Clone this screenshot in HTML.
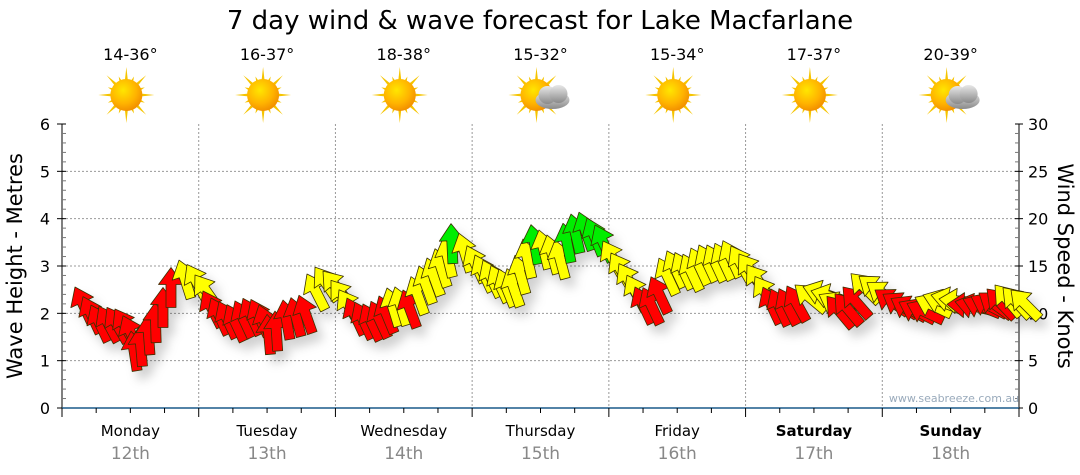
<!DOCTYPE html>
<html><head><meta charset="utf-8"><style>
body{margin:0;background:#fff;width:1080px;height:475px;overflow:hidden;font-family:"DejaVu Sans","Liberation Sans",sans-serif}
</style></head><body>
<svg id="s" width="1080" height="475" xmlns="http://www.w3.org/2000/svg" style="display:block">
<defs>
<radialGradient id="sun" cx="0.4" cy="0.35" r="0.7"><stop offset="0" stop-color="#ffe600"/><stop offset="0.6" stop-color="#ffb300"/><stop offset="1" stop-color="#f08a00"/></radialGradient>
<linearGradient id="cl" x1="0" y1="0" x2="0" y2="1"><stop offset="0" stop-color="#e8e8e8"/><stop offset="1" stop-color="#8a8a8a"/></linearGradient>
<filter id="sh" x="-50%" y="-50%" width="200%" height="200%"><feDropShadow dx="6" dy="8" stdDeviation="5" flood-color="#000" flood-opacity="0.18"/></filter>
</defs>
<text x="540" y="29" font-size="26" text-anchor="middle" fill="#000">7 day wind &amp; wave forecast for Lake Macfarlane</text>
<g id="g"></g>
</svg>
<script>
var g=document.getElementById('g'),h='';
var L=62,R=1019,T=124,B=408,dw=(R-L)/7;
for(var k=1;k<6;k++){var y=B-k*(B-T)/6;h+='<line x1="'+L+'" x2="'+R+'" y1="'+y+'" y2="'+y+'" stroke="#999" stroke-dasharray="2,2"/>';}
for(var d=1;d<7;d++){var x=L+d*dw;h+='<line x1="'+x+'" x2="'+x+'" y1="'+T+'" y2="'+B+'" stroke="#999" stroke-dasharray="2,2"/>';}
h+='<line x1="'+L+'" x2="'+L+'" y1="'+T+'" y2="'+(B+9)+'" stroke="#000"/>';
for(var i=0;i<=30;i++){var y=B-i*(B-T)/30;h+='<line x1="'+(i%5?L:L-5)+'" x2="'+(L+4)+'" y1="'+y+'" y2="'+y+'" stroke="'+(i%5?'#777':'#000')+'"/>';}
for(var k=0;k<=6;k++){var y=B-k*(B-T)/6;h+='<text x="50" y="'+(y+6)+'" font-size="16" text-anchor="end">'+k+'</text>';}
h+='<line x1="'+R+'" x2="'+R+'" y1="'+T+'" y2="'+(B+8)+'" stroke="#000"/>';
for(var i=0;i<=30;i++){var y=B-i*(B-T)/30;h+='<line x1="'+(R-4)+'" x2="'+(i%5?R:R+4)+'" y1="'+y+'" y2="'+y+'" stroke="'+(i%5?'#777':'#000')+'"/>';if(i%5==0)h+='<text x="1028" y="'+(y+6)+'" font-size="16">'+i+'</text>';}
h+='<line x1="'+L+'" x2="'+R+'" y1="'+B+'" y2="'+B+'" stroke="#1a5a8a" stroke-width="1.5"/>';
var days=['Monday','Tuesday','Wednesday','Thursday','Friday','Saturday','Sunday'],dates=['12th','13th','14th','15th','16th','17th','18th'],temps=['14-36°','16-37°','18-38°','15-32°','15-34°','17-37°','20-39°'];
for(var d=0;d<=7;d++){var x=L+d*dw;h+='<line x1="'+x+'" x2="'+x+'" y1="'+B+'" y2="'+(B+9)+'" stroke="#000"/>';
 if(d<7){for(var q=1;q<4;q++){var xx=x+q*dw/4;h+='<line x1="'+xx+'" x2="'+xx+'" y1="'+B+'" y2="'+(B+5)+'" stroke="#000"/>';}
 var cx=x+dw/2,b=d>=5?' font-weight="bold"':'';
 h+='<text x="'+cx+'" y="436" font-size="15" text-anchor="middle"'+b+'>'+days[d]+'</text>';
 h+='<text x="'+cx+'" y="459" font-size="17" text-anchor="middle" fill="#888">'+dates[d]+'</text>';
 h+='<text x="'+cx+'" y="60" font-size="16" text-anchor="middle">'+temps[d]+'</text>';
 var sy=95,sx=cx-4;
 for(var r=0;r<16;r++){var a=r*Math.PI/8,l=(r%2?20:28);h+='<polygon points="'+(sx+Math.cos(a+0.13)*13)+','+(sy+Math.sin(a+0.13)*13)+' '+(sx+Math.cos(a)*l)+','+(sy+Math.sin(a)*l)+' '+(sx+Math.cos(a-0.13)*13)+','+(sy+Math.sin(a-0.13)*13)+'" fill="#f5c400"/>';}
 h+='<circle cx="'+sx+'" cy="'+sy+'" r="16" fill="url(#sun)"/>';
 if(d==3||d==6){h+='<g fill="url(#cl)"><ellipse cx="'+(sx+16)+'" cy="'+(sy+5)+'" rx="17" ry="9"/><circle cx="'+(sx+11)+'" cy="'+(sy)+'" r="9"/><circle cx="'+(sx+22)+'" cy="'+(sy-1)+'" r="9"/></g>';}
 }
}
h+='<text x="954" y="402" font-size="11" text-anchor="middle" fill="#9ab">www.seabreeze.com.au</text>';
h+='<text transform="translate(22,266) rotate(-90)" font-size="21" text-anchor="middle">Wave Height - Metres</text>';
h+='<text transform="translate(1058,266) rotate(90)" font-size="21" text-anchor="middle">Wind Speed - Knots</text>';
var kp=[[75,287,-25,'r'],[90,305,-25,'r'],[105,307,-30,'r'],[120,310,-30,'r'],[133,335,-5,'r'],[145,318,-5,'r'],[160,295,0,'r'],[172,265,0,'r'],[182,258,-25,'y'],[195,275,-35,'y'],[205,295,-25,'r'],[215,300,-25,'r'],[228,305,-25,'r'],[240,298,-25,'r'],[255,300,-25,'r'],[270,318,0,'r'],[283,300,-10,'r'],[300,295,-20,'r'],[310,265,-30,'y'],[322,270,-40,'y'],[335,285,-35,'y'],[345,297,-25,'r'],[360,305,-25,'r'],[375,300,-25,'r'],[390,285,-15,'y'],[403,290,-20,'r'],[415,270,-20,'y'],[430,255,-20,'y'],[442,240,-15,'y'],[453,220,0,'gr'],[462,240,-25,'y'],[475,255,-25,'y'],[490,265,-25,'y'],[505,272,-20,'y'],[517,252,-15,'y'],[530,224,-10,'gr'],[542,232,-15,'y'],[555,240,-15,'y'],[567,215,-10,'gr'],[580,212,-20,'gr'],[595,225,-25,'gr'],[605,245,-30,'y'],[620,265,-30,'y'],[635,287,-25,'r'],[647,288,-25,'r'],[657,260,-25,'y'],[668,250,-25,'y'],[682,255,-25,'y'],[695,245,-25,'y'],[710,245,-25,'y'],[725,240,-25,'y'],[740,255,-35,'y'],[752,272,-35,'y'],[762,287,-25,'r'],[775,290,-25,'r'],[790,285,-30,'r'],[800,285,-70,'y'],[815,293,-75,'y'],[825,297,-40,'r'],[840,292,-40,'r'],[852,272,-45,'y'],[862,278,-55,'y'],[875,290,-55,'r'],[890,298,-60,'r'],[905,305,-65,'r'],[918,295,-65,'y'],[935,295,-80,'y'],[945,305,-90,'r'],[960,300,-70,'r'],[975,295,-60,'r'],[985,290,-45,'r'],[995,285,-40,'y'],[1010,290,-45,'y']];
var col={r:'#ff0000',y:'#ffff00',gr:'#00ee00'};
function interp(x){for(var i=0;i<kp.length-1;i++){if(x<=kp[i+1][0]){var a=kp[i],b=kp[i+1],t=(x-a[0])/(b[0]-a[0]);return [a[1]+(b[1]-a[1])*t,a[2]+(b[2]-a[2])*t,t<0.5?a[3]:b[3]];}}var l=kp[kp.length-1];return [l[1],l[2],l[3]];}
var ar='<g filter="url(#sh)">';
for(var x=75;x<=1012;x+=8){var v=interp(x);var Ln=40;
 ar+='<polygon transform="translate('+x+','+v[0]+') rotate('+v[1]+')" points="0,0 12.5,17 5,17 5,'+Ln+' -5,'+Ln+' -5,17 -12.5,17" fill="'+col[v[2]]+'" stroke="#3a3000" stroke-width="0.8" stroke-linejoin="round"/>';}
ar+='</g>';
g.innerHTML=h+ar;
</script>
</body></html>
